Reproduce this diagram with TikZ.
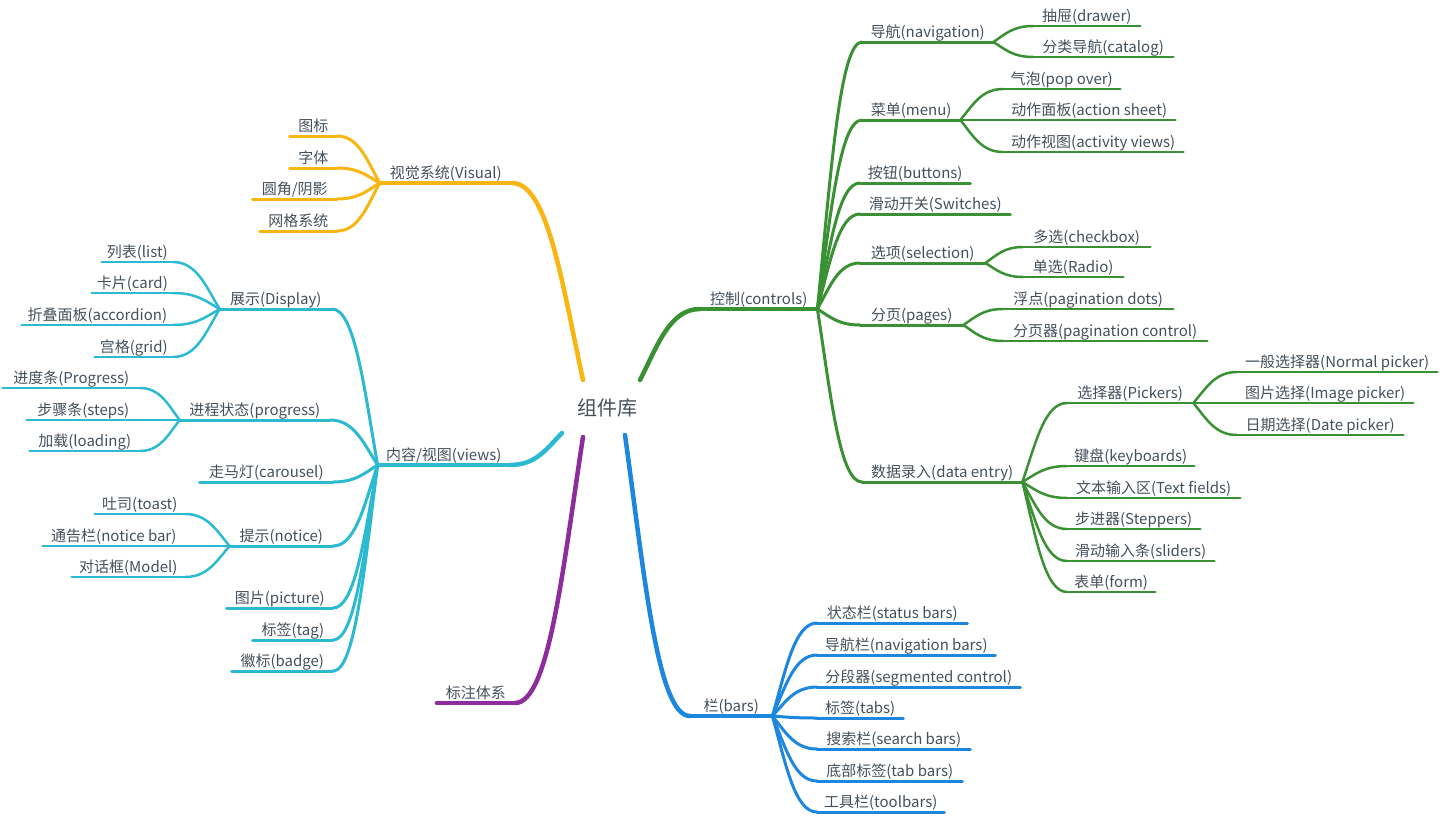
\documentclass[tikz,border=0pt]{standalone}
\usepackage{fontspec}
\setmainfont{Noto Sans CJK SC}
\usetikzlibrary{calc}
\definecolor{cY}{HTML}{F9B512}
\definecolor{cG}{HTML}{3A9134}
\definecolor{cC}{HTML}{2CB9D2}
\definecolor{cB}{HTML}{1D86DE}
\definecolor{cP}{HTML}{8E2C9E}
\definecolor{txt}{HTML}{44505C}
\newcommand\branchto[3]{\draw[#1] let \p1=(#2), \p2=(#3) in (\p1) .. controls ({\x1+0.3*(\x2-\x1)},{\y1+0.5*(\y2-\y1)}) and ({\x1+0.5*(\x2-\x1)},\y2) .. (\p2);}
\newcommand\ulin[2]{\draw[#1] (#2.south west) -- (#2.south east);}
\tikzset{
  lbl/.style={font=\fontsize{15}{18}\selectfont, text=txt, inner xsep=0pt, inner ysep=1.5pt, text height=11pt, text depth=3pt, minimum width=#1},
  rnode/.style={lbl=#1, anchor=south west},
  lnode/.style={lbl=#1, anchor=south east},
  w0/.style={line width=4.5pt, line cap=round},
  w1/.style={line width=4pt, line cap=round},
  w2/.style={line width=3pt, line cap=round},
  w3/.style={line width=2.5pt, line cap=round},
}
\begin{document}
\begin{tikzpicture}[x=1pt,y=-1pt]
\useasboundingbox (0,0) rectangle (1440,817);
% root
\node[font=\fontsize{20}{24}\selectfont, text=txt] (root) at (607,408) {组件库};
\coordinate (sY) at (583,380);
\coordinate (sG) at (640,380);
\coordinate (sC) at (562,433);
\coordinate (sP) at (583,437);
\coordinate (sB) at (625,435);

% ---------- green (controls)
\node[rnode=117pt] (ctrl) at (700,309) {控制(controls)};
\node[rnode=131pt] (nav) at (862,42) {导航(navigation)};
\node[rnode=98pt] (menu) at (862,120) {菜单(menu)};
\node[rnode=110pt] (btn) at (860,183) {按钮(buttons)};
\node[rnode=150pt] (sw) at (860,214) {滑动开关(Switches)};
\node[rnode=125pt] (sel) at (860,263) {选项(selection)};
\node[rnode=103pt] (pages) at (860,325) {分页(pages)};
\node[rnode=160pt] (data) at (862,482) {数据录入(data entry)};
\node[rnode=107pt] (drawer) at (1033,26) {抽屉(drawer)};
\node[rnode=140pt] (catalog) at (1033,57) {分类导航(catalog)};
\node[rnode=117pt] (pop) at (1003,89) {气泡(pop over)};
\node[rnode=172pt] (sheet) at (1003,120) {动作面板(action sheet)};
\node[rnode=180pt] (act) at (1003,152) {动作视图(activity views)};
\node[rnode=127pt] (chk) at (1023,247) {多选(checkbox)};
\node[rnode=100pt] (radio) at (1023,277) {单选(Radio)};
\node[rnode=170pt] (dots) at (1003,309) {浮点(pagination dots)};
\node[rnode=204pt] (pctl) at (1003,341) {分页器(pagination control)};
\node[rnode=126pt] (pick) at (1067,403) {选择器(Pickers)};
\node[rnode=127pt] (kbd) at (1067,466) {键盘(keyboards)};
\node[rnode=173pt] (tf) at (1067,498) {文本输入区(Text fields)};
\node[rnode=133pt] (stp) at (1067,529) {步进器(Steppers)};
\node[rnode=147pt] (sld) at (1067,561) {滑动输入条(sliders)};
\node[rnode=88pt] (form) at (1067,592) {表单(form)};
\node[rnode=200pt] (np) at (1237,372) {一般选择器(Normal picker)};
\node[rnode=176pt] (ip) at (1237,403) {图片选择(Image picker)};
\node[rnode=166pt] (dp) at (1237,435) {日期选择(Date picker)};

\branchto{w0,cG}{sG}{ctrl.south west}
\ulin{w1,cG}{ctrl}
\foreach \nd in {nav,menu,btn,sw,sel,pages,data}{
  \branchto{w2,cG}{ctrl.south east}{\nd.south west}
  \ulin{w2,cG}{\nd}
}
\foreach \pa/\nd in {nav/drawer,nav/catalog,menu/pop,menu/sheet,menu/act,sel/chk,sel/radio,pages/dots,pages/pctl,data/pick,data/kbd,data/tf,data/stp,data/sld,data/form}{
  \branchto{w3,cG}{\pa.south east}{\nd.south west}
  \ulin{w3,cG}{\nd}
}
\foreach \nd in {np,ip,dp}{
  \branchto{w3,cG}{pick.south east}{\nd.south west}
  \ulin{w3,cG}{\nd}
}

% ---------- blue (bars)
\node[rnode=82pt] (bars) at (690,716) {栏(bars)};
\node[rnode=150pt] (status) at (817,623) {状态栏(status bars)};
\node[rnode=178pt] (navbars) at (817,655) {导航栏(navigation bars)};
\node[rnode=203pt] (seg) at (817,687) {分段器(segmented control)};
\node[rnode=86pt] (tabs) at (817,718) {标签(tabs)};
\node[rnode=153pt] (search) at (817,749) {搜索栏(search bars)};
\node[rnode=145pt] (tabbars) at (817,781) {底部标签(tab bars)};
\node[rnode=127pt] (tool) at (817,812) {工具栏(toolbars)};
\branchto{w0,cB}{sB}{bars.south west}
\ulin{w1,cB}{bars}
\foreach \nd in {status,navbars,seg,tabs,search,tabbars,tool}{
  \branchto{w2,cB}{bars.south east}{\nd.south west}
  \ulin{w2,cB}{\nd}
}

% ---------- yellow (visual)
\node[lnode=132pt] (vis) at (512,183) {视觉系统(Visual)};
\node[lnode=47pt] (icon) at (337,136) {图标};
\node[lnode=47pt] (fnt) at (337,168) {字体};
\node[lnode=84pt] (rad) at (337,199) {圆角/阴影};
\node[lnode=77pt] (gsys) at (337,231) {网格系统};
\branchto{w0,cY}{sY}{vis.south east}
\ulin{w1,cY}{vis}
\foreach \nd in {icon,fnt,rad,gsys}{
  \branchto{w2,cY}{vis.south west}{\nd.south east}
  \ulin{w2,cY}{\nd}
}

% ---------- cyan (views)
\node[lnode=132pt] (views) at (510,465) {内容/视图(views)};
\node[lnode=112pt] (disp) at (332,309) {展示(Display)};
\node[lnode=150pt] (prog) at (330,420) {进程状态(progress)};
\node[lnode=133pt] (car) at (333,482) {走马灯(carousel)};
\node[lnode=103pt] (notice) at (333,546) {提示(notice)};
\node[lnode=106pt] (pic) at (333,608) {图片(picture)};
\node[lnode=80pt] (tag) at (333,640) {标签(tag)};
\node[lnode=101pt] (badge) at (333,671) {徽标(badge)};
\node[lnode=71pt] (list) at (173,262) {列表(list)};
\node[lnode=81pt] (card) at (173,293) {卡片(card)};
\node[lnode=151pt] (acc) at (173,325) {折叠面板(accordion)};
\node[lnode=78pt] (gcell) at (173,357) {宫格(grid)};
\node[lnode=137pt] (pbar) at (140,388) {进度条(Progress)};
\node[lnode=113pt] (steps) at (140,420) {步骤条(steps)};
\node[lnode=110pt] (load) at (140,451) {加载(loading)};
\node[lnode=90pt] (toast) at (185,514) {吐司(toast)};
\node[lnode=142pt] (nbar) at (185,546) {通告栏(notice bar)};
\node[lnode=113pt] (modal) at (185,577) {对话框(Model)};
\branchto{w0,cC}{sC}{views.south east}
\ulin{w1,cC}{views}
\foreach \nd in {disp,prog,car,notice,pic,tag,badge}{
  \branchto{w2,cC}{views.south west}{\nd.south east}
  \ulin{w2,cC}{\nd}
}
\foreach \pa/\nd in {disp/list,disp/card,disp/acc,disp/gcell,prog/pbar,prog/steps,prog/load,notice/toast,notice/nbar,notice/modal}{
  \branchto{w3,cC}{\pa.south west}{\nd.south east}
  \ulin{w3,cC}{\nd}
}

% ---------- purple
\node[lnode=78pt] (mark) at (515,703) {标注体系};
\branchto{w0,cP}{sP}{mark.south east}
\ulin{w1,cP}{mark}
\end{tikzpicture}
\end{document}
